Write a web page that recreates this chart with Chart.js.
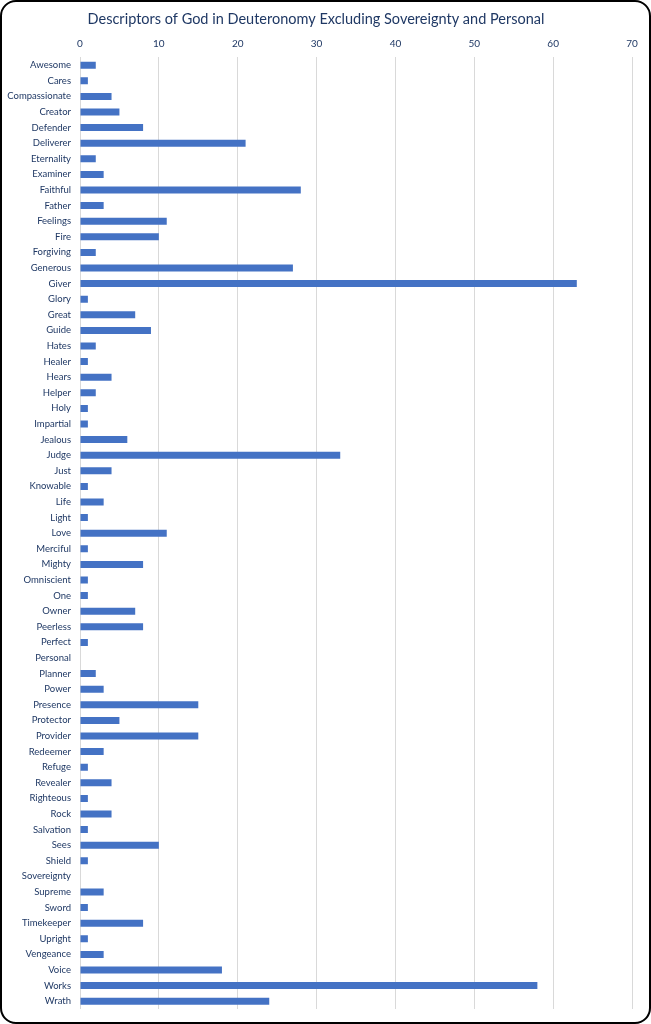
<!DOCTYPE html>
<html>
<head>
<meta charset="utf-8">
<script src="https://cdn.jsdelivr.net/npm/chart.js@4"></script>
<style>
html,body{margin:0;padding:0;background:#fff;}
#wrap{position:relative;width:651px;height:1024px;}
#c{position:absolute;left:0;top:0;}
#frame{position:absolute;left:0;top:0;width:651px;height:1024px;box-sizing:border-box;border:2px solid #000;border-radius:16px;pointer-events:none;}
</style>
</head>
<body>
<div id="wrap"><canvas id="c" width="651" height="1024"></canvas><div id="frame"></div></div>
<script>
const categories = ["Awesome","Cares","Compassionate","Creator","Defender","Deliverer","Eternality","Examiner","Faithful","Father","Feelings","Fire","Forgiving","Generous","Giver","Glory","Great","Guide","Hates","Healer","Hears","Helper","Holy","Impartial","Jealous","Judge","Just","Knowable","Life","Light","Love","Merciful","Mighty","Omniscient","One","Owner","Peerless","Perfect","Personal","Planner","Power","Presence","Protector","Provider","Redeemer","Refuge","Revealer","Righteous","Rock","Salvation","Sees","Shield","Sovereignty","Supreme","Sword","Timekeeper","Upright","Vengeance","Voice","Works","Wrath"];
const counts = [2,1,4,5,8,21,2,3,28,3,11,10,2,27,63,1,7,9,2,1,4,2,1,1,6,33,4,1,3,1,11,1,8,1,1,7,8,1,0,2,3,15,5,15,3,1,4,1,4,1,10,1,0,3,1,8,1,3,18,58,24];
const xTicks = [0,10,20,30,40,50,60,70];
const titleText = "Descriptors of God in Deuteronomy Excluding Sovereignty and Personal";

const textColor = "#1F3864";
const fontFam = "Lato, 'Open Sans', sans-serif";

new Chart(document.getElementById('c'), {
  type: 'bar',
  data: {
    labels: categories,
    datasets: [{
      data: counts,
      backgroundColor: '#4472C4',
      borderWidth: 0,
      barPercentage: 0.9,
      categoryPercentage: 0.5
    }]
  },
  options: {
    indexAxis: 'y',
    responsive: false,
    animation: false,
    layout: { padding: { left: 0, right: 19, top: 9, bottom: 15 } },
    plugins: {
      legend: { display: false },
      tooltip: { enabled: false },
      title: {
        display: true,
        text: titleText,
        color: textColor,
        font: { family: fontFam, size: 14.5, weight: 'normal' },
        padding: { top: 2, bottom: 1 }
      }
    },
    scales: {
      x: {
        position: 'top',
        min: 0, max: 70,
        afterBuildTicks: (s) => { s.ticks = xTicks.map(v => ({ value: v })); },
        grid: { color: '#D9D9D9', drawTicks: false, lineWidth: 1 },
        border: { display: false },
        ticks: { color: textColor, font: { family: fontFam, size: 10 }, padding: 8 }
      },
      y: {
        afterFit: (s) => { s.width = 80; },
        grid: { display: false, drawTicks: false },
        border: { display: false },
        ticks: { color: textColor, font: { family: fontFam, size: 9.5 }, padding: 9, autoSkip: false }
      }
    }
  }
});
</script>
</body>
</html>
